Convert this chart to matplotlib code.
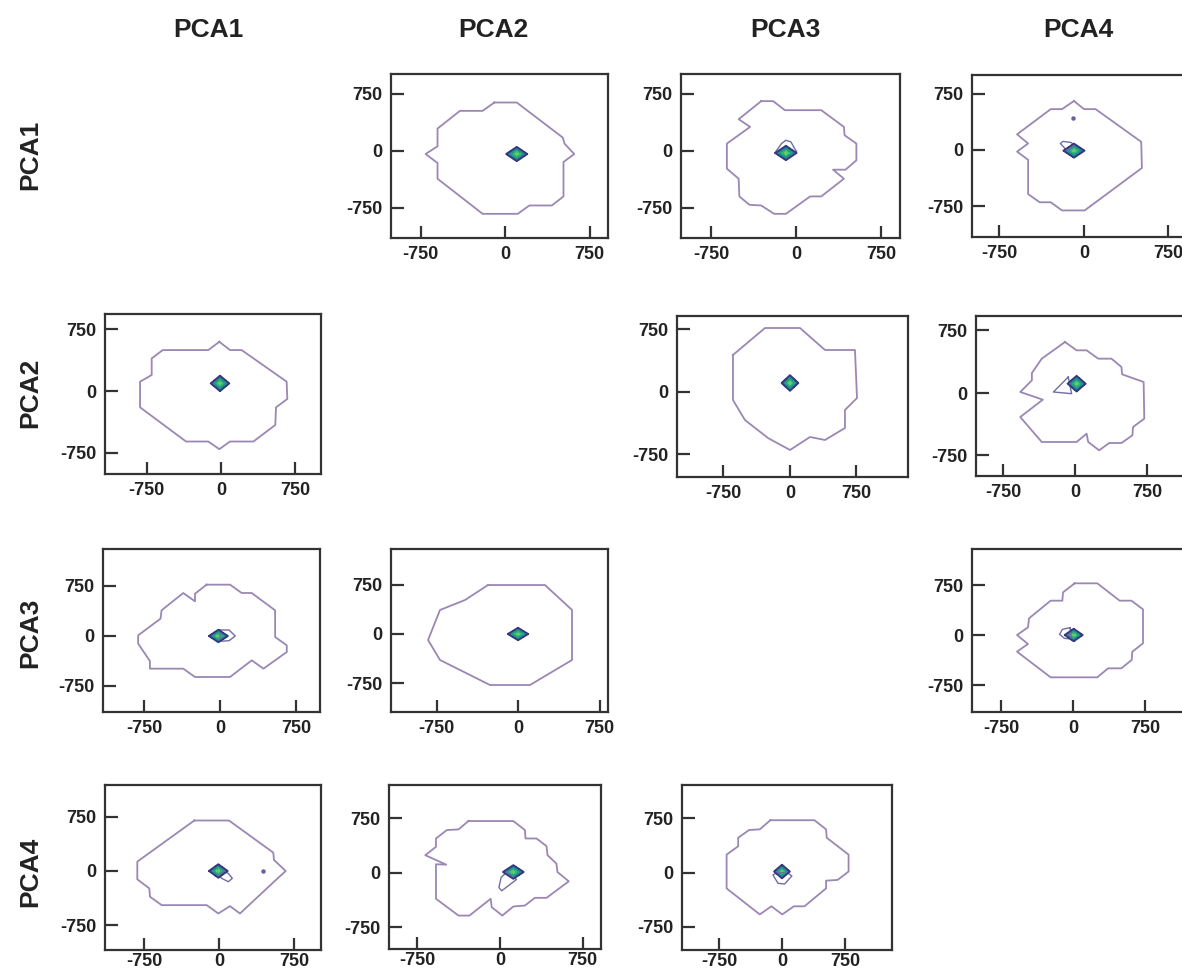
import numpy as np
import matplotlib.pyplot as plt
from matplotlib.colors import Normalize

plt.rcParams['font.family'] = ['Liberation Sans', 'DejaVu Sans']
plt.rcParams['font.weight'] = 'bold'

names = ['PCA1', 'PCA2', 'PCA3', 'PCA4']
ticks = [-750, 0, 750]

# outer density contour for every off-diagonal panel (row, col)
out_12_x = [-95, 104, 513, 528, 614, 519, 519, 415, 216, 113, -199, -599, -599, -705, -599, -599, -400, -199]
out_12_y = [638, 638, 176, 97, -40, -145, -598, -717, -717, -827, -827, -365, -158, -40, 62, 295, 528, 528]
out_13_x = [-307, -202, -98, 223, 423, 429, 533, 533, 437, 327, 423, 223, 125, -89, -193, -307, -411, -500, -506, -610, -610, -405, -506]
out_13_y = [656, 656, 537, 537, 317, 207, 97, -123, -246, -246, -365, -598, -598, -827, -827, -717, -708, -598, -365, -233, 97, 317, 418]
out_14_x = [-89, 0, 103, 508, 514, 6, -195, -295, -393, -496, -496, -594, -496, -594, -295, -195]
out_14_y = [656, 547, 547, 109, -241, -809, -809, -700, -700, -590, -131, -22, 87, 210, 547, 547]
out_21_x = [-17, 91, 208, 661, 668, 554, 547, 326, 91, -17, -128, -352, -815, -815, -698, -698, -587, -128]
out_21_y = [600, 499, 499, 114, -97, -199, -414, -616, -616, -709, -616, -616, -199, 114, 195, 397, 499, 499]
out_23_x = [-643, -282, 113, 395, 733, 756, 620, 620, 395, 226, 0, -248, -508, -643]
out_23_y = [444, 768, 768, 504, 504, -72, -216, -432, -576, -540, -696, -552, -336, -96]
out_24_x = [-104, 17, 121, 242, 380, 484, 491, 715, 722, 605, 598, 484, 356, 252, 138, 121, 17, -346, -570, -335, -570, -449, -449, -346, -225]
out_24_y = [612, 512, 512, 412, 412, 312, 224, 132, -308, -408, -508, -600, -600, -688, -588, -488, -588, -588, -288, -80, 12, 152, 240, 412, 512]
out_31_x = [-132, 99, 214, 313, 544, 544, 659, 659, 429, 313, 99, -247, -363, -692, -692, -808, -808, -587, -577, -363, -247, -247]
out_31_y = [770, 770, 645, 645, 385, -15, -140, -240, -490, -365, -615, -615, -490, -490, -375, -115, 10, 260, 385, 645, 520, 635]
out_32_x = [-276, 248, 497, 497, 110, -258, -718, -828, -718, -488]
out_32_y = [742, 742, 364, -394, -773, -773, -394, -91, 364, 515]
out_34_x = [17, 253, 486, 608, 729, 729, 618, 611, 503, 365, 253, -233, -583, -469, -583, -469, -458, -233, -111, -104]
out_34_y = [775, 775, 515, 515, 385, -125, -250, -375, -500, -500, -635, -635, -250, -135, 0, 115, 250, 515, 515, 640]
out_41_x = [-247, 100, 543, 550, 667, 550, 210, 110, -7, -123, -573, -690, -697, -817, -817]
out_41_y = [701, 701, 255, 153, 0, -149, -590, -488, -590, -474, -474, -358, -241, -116, 130]
out_42_x = [-287, 121, 226, 232, 332, 423, 432, 513, 522, 625, 423, 317, 226, 121, 21, -75, -85, -278, -377, -582, -582, -489, -679, -582, -582, -483, -377]
out_42_y = [715, 715, 591, 475, 475, 369, 245, 129, 14, -115, -342, -342, -448, -461, -586, -471, -355, -586, -586, -355, 120, 115, 245, 360, 475, 591, 600]
out_43_x = [-138, 387, 525, 533, 793, 793, 663, 525, 525, 268, 142, 4, -126, -264, -659, -659, -521, -521, -391, -264]
out_43_y = [722, 722, 596, 480, 247, 14, -102, -112, -219, -466, -466, -578, -466, -578, -219, 247, 363, 480, 587, 596]

# position of the density peak in each panel
peak_12 = (104, -40)
peak_13 = (-89, -26)
peak_14 = (-89, -9)
peak_21 = (-10, 93)
peak_23 = (0, 108)
peak_24 = (17, 112)
peak_31 = (-16, 0)
peak_32 = (0, 0)
peak_34 = (7, 0)
peak_41 = (-7, 0)
peak_42 = (121, 14)
peak_43 = (0, 14)

# small secondary contour loops next to the peak
loop_13_x = [-187, -128, -89, -45, 6, -89]
loop_13_y = [-26, 97, 141, 119, -13, -120]
loop_14_x = [-150, -210, -186, -112, -89]
loop_14_y = [-9, 87, 115, 100, 60]
loop_24_x = [-70, -225, -35]
loop_24_y = [192, 12, -8]
loop_31_x = [0, 90, 150, 90, 0]
loop_31_y = [90, 90, 0, -70, -80]
loop_34_x = [-30, -110, -140, -90, -20]
loop_34_y = [110, 85, 10, -50, -60]
loop_41_x = [0, 27, 93, 133, 93, 40]
loop_41_y = [-60, -102, -149, -102, -33, 0]
loop_42_x = [60, 10, -10, 15, 150]
loop_42_y = [10, -60, -200, -245, -90]
loop_43_x = [-60, -107, -47, 32, 118, 60]
loop_43_y = [0, -33, -149, -158, -47, 0]

# isolated tiny contours
dot_14 = (-97, 424)
dot_41 = (437, 0)

# density values on the 3x3 grid around each peak
peak_grid = [[0, 0, 0], [0, 1, 0], [0, 0, 0]]
grid_step = 105

panels = {
    (0, 1): (out_12_x, out_12_y, peak_12, None, None),
    (0, 2): (out_13_x, out_13_y, peak_13, (loop_13_x, loop_13_y), None),
    (0, 3): (out_14_x, out_14_y, peak_14, (loop_14_x, loop_14_y), dot_14),
    (1, 0): (out_21_x, out_21_y, peak_21, None, None),
    (1, 2): (out_23_x, out_23_y, peak_23, None, None),
    (1, 3): (out_24_x, out_24_y, peak_24, (loop_24_x, loop_24_y), None),
    (2, 0): (out_31_x, out_31_y, peak_31, (loop_31_x, loop_31_y), None),
    (2, 1): (out_32_x, out_32_y, peak_32, None, None),
    (2, 3): (out_34_x, out_34_y, peak_34, (loop_34_x, loop_34_y), None),
    (3, 0): (out_41_x, out_41_y, peak_41, (loop_41_x, loop_41_y), dot_41),
    (3, 1): (out_42_x, out_42_y, peak_42, (loop_42_x, loop_42_y), None),
    (3, 2): (out_43_x, out_43_y, peak_43, (loop_43_x, loop_43_y), None),
}

# layout: axes box in pixels (left, top, right, bottom) and axis limits
W, H = 1182, 972
layout = {
    (0, 1): ((391, 74, 608, 238), (-1012, 914), (-1145, 1013)),
    (0, 2): ((681, 74, 900, 238), (-1015, 918), (-1145, 1013)),
    (0, 3): ((972, 75, 1189, 237), (-994, 932), (-1165, 1004)),
    (1, 0): ((105, 314, 321, 474), (-1168, 1007), (-1012, 939)),
    (1, 2): ((677, 316, 908, 477), (-1274, 1331), (-1020, 912)),
    (1, 3): ((976, 316, 1192, 476), (-1031, 1219), (-996, 924)),
    (2, 0): ((103, 549, 320, 712), (-1155, 987), (-1140, 1305)),
    (2, 1): ((391, 549, 608, 712), (-1169, 828), (-1182, 1288)),
    (2, 3): ((972, 549, 1189, 712), (-1052, 1208), (-1155, 1290)),
    (3, 0): ((105, 785, 321, 950), (-1140, 1020), (-1097, 1194)),
    (3, 1): ((389, 785, 601, 949), (-1009, 918), (-1046, 1211)),
    (3, 2): ((682, 785, 892, 950), (-1190, 1310), (-1069, 1208)),
}

fig = plt.figure(figsize=(W / 100, H / 100), dpi=100)
norm = Normalize(vmin=-0.3, vmax=1.3)
levels = [0.1, 0.25, 0.4, 0.55, 0.7, 0.85, 1.0]

for key, (ox, oy, peak, loop, dot) in panels.items():
    (x0, y0, x1, y1), xlim, ylim = layout[key]
    ax = fig.add_axes([x0 / W, 1 - y1 / H, (x1 - x0) / W, (y1 - y0) / H])

    # outer contour
    ax.plot(ox + ox[:1], oy + oy[:1], color='#9a87b4', lw=1.3)
    if loop is not None:
        lx, ly = loop
        ax.plot(lx + lx[:1], ly + ly[:1], color='#6f6ea6', lw=1.0)
    if dot is not None:
        ax.plot(dot[0], dot[1], 'o', ms=2.2, color='#6a5f9c')

    # peak
    cx, cy = peak
    gx = [cx - grid_step, cx, cx + grid_step]
    gy = [cy - grid_step, cy, cy + grid_step]
    ax.contourf(gx, gy, peak_grid, levels=levels, cmap='viridis', norm=norm)
    ax.contour(gx, gy, peak_grid, levels=[0.1], colors='#34387e', linewidths=1.3)

    ax.set_xlim(xlim)
    ax.set_ylim(ylim)
    ax.set_xticks(ticks)
    ax.set_yticks(ticks)
    ax.set_xticklabels([str(t) for t in ticks])
    ax.set_yticklabels([str(t) for t in ticks])
    ax.tick_params(direction='in', length=9, width=1.6, color='#333333',
                   labelsize=13, labelcolor='#222222', pad=6)
    if key[0] == 3:
        ax.tick_params(axis='x', pad=2)
    for s in ax.spines.values():
        s.set_linewidth(1.6)
        s.set_color('#333333')

# column and row headers
col_x = [208, 493, 785, 1078]
row_y = [155, 393, 633, 872]
for name, x in zip(names, col_x):
    fig.text(x / W, 1 - 30 / H, name, ha='center', va='center', fontsize=19,
             fontweight='bold', color='#222222')
for name, y in zip(names, row_y):
    fig.text(30 / W, 1 - y / H, name, ha='center', va='center', fontsize=19,
             fontweight='bold', color='#222222', rotation=90)

fig.savefig('out.png', dpi=100)
